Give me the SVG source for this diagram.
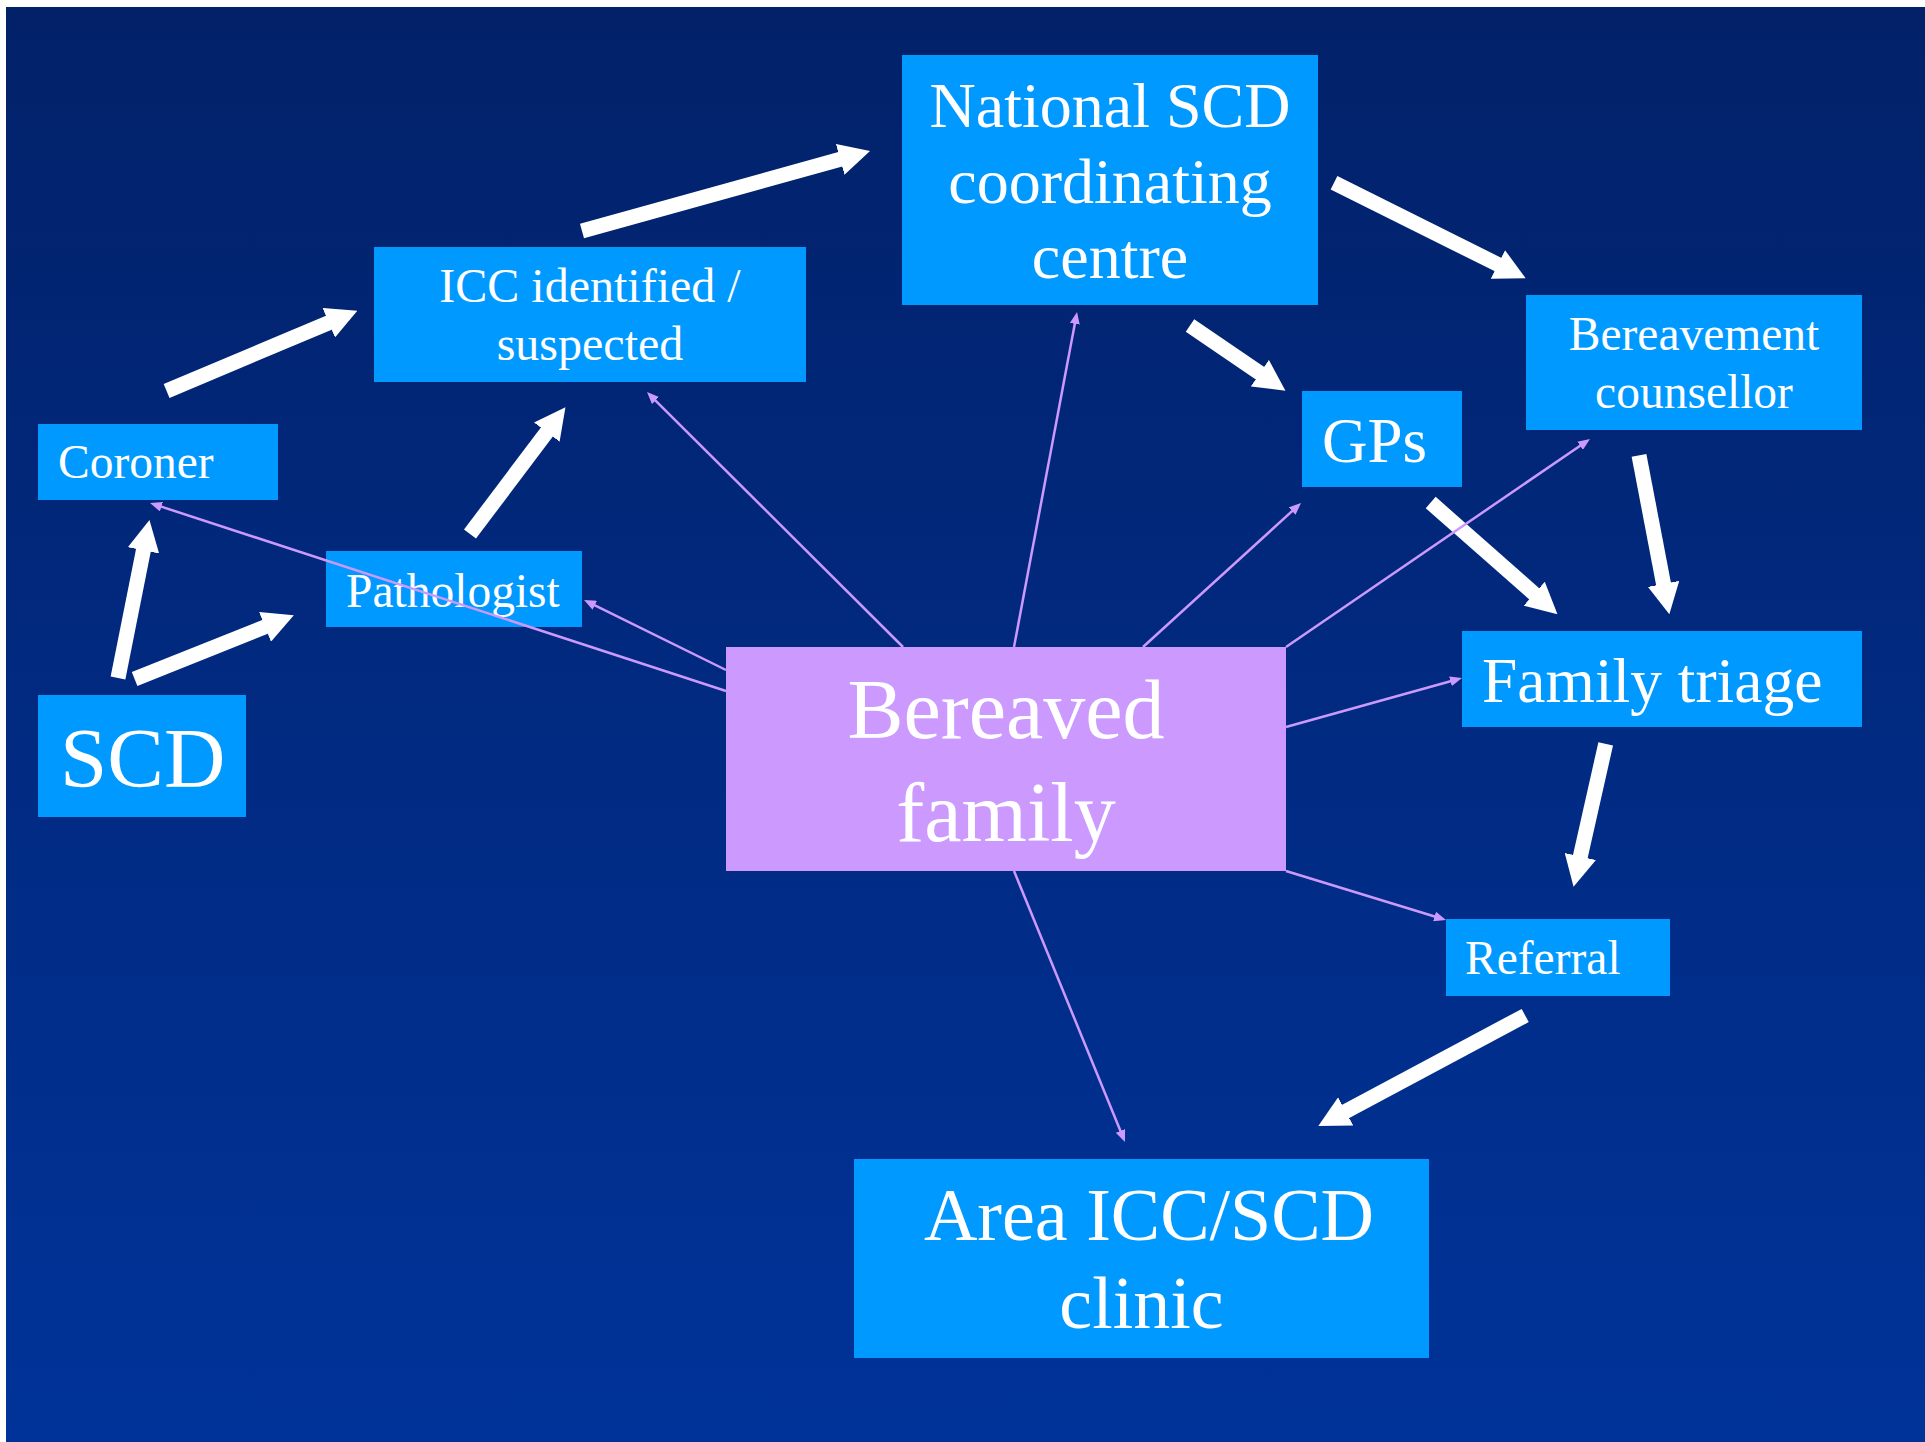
<svg xmlns="http://www.w3.org/2000/svg" width="1925" height="1442" viewBox="0 0 1925 1442">
  <style>
    .box { fill: #0099FF; }
    .fam { fill: #CC99FF; }
    text { font-family: "Liberation Serif", "Times New Roman", serif; fill: #FFFFFF; }
    .sm { font-size: 47.5px; }
    .mid { text-anchor: middle; }
    .flow { stroke: #FFFFFF; stroke-width: 15; fill: none; marker-end: url(#headW); }
    .link { stroke: #CC99FF; stroke-width: 2.5; fill: none; marker-end: url(#headP); }
  </style>
  <defs>
    <linearGradient id="bg" x1="0" y1="0" x2="0" y2="1">
      <stop offset="0" stop-color="#022169"/>
      <stop offset="1" stop-color="#003399"/>
    </linearGradient>
    <marker id="headW" markerUnits="userSpaceOnUse" viewBox="0 0 31 32" markerWidth="31" markerHeight="32" refX="2" refY="16" orient="auto">
      <path d="M0,0 L31,16 L0,32 Z" fill="#FFFFFF"/>
    </marker>
    <marker id="headP" markerUnits="userSpaceOnUse" viewBox="0 0 12 10" markerWidth="12" markerHeight="10" refX="1" refY="5" orient="auto">
      <path d="M0,0 L12,5 L0,10 Z" fill="#CC99FF"/>
    </marker>
  </defs>

  <!-- page -->
  <rect x="0" y="0" width="1925" height="1442" fill="#FFFFFF"/>
  <rect x="6" y="7" width="1919" height="1435" fill="url(#bg)"/>

  <!-- nodes -->
  <g id="national">
    <rect class="box" x="902" y="55" width="416" height="250"/>
    <text class="mid" font-size="64" x="1110" y="127">National SCD</text>
    <text class="mid" font-size="64" x="1110" y="203">coordinating</text>
    <text class="mid" font-size="64" x="1110" y="278">centre</text>
  </g>
  <g id="icc">
    <rect class="box" x="374" y="247" width="432" height="135"/>
    <text class="mid" font-size="48" x="590" y="302">ICC identified /</text>
    <text class="mid" font-size="48" x="590" y="360">suspected</text>
  </g>
  <g id="coroner">
    <rect class="box" x="38" y="424" width="240" height="76"/>
    <text class="sm" x="58" y="478">Coroner</text>
  </g>
  <g id="pathologist">
    <rect class="box" x="326" y="551" width="256" height="76"/>
    <text class="sm" x="346" y="607">Pathologist</text>
  </g>
  <g id="scd">
    <rect class="box" x="38" y="695" width="208" height="122"/>
    <text font-size="85" x="60" y="787">SCD</text>
  </g>
  <g id="gps">
    <rect class="box" x="1302" y="391" width="160" height="96"/>
    <text font-size="63" x="1322" y="462">GPs</text>
  </g>
  <g id="counsellor">
    <rect class="box" x="1526" y="295" width="336" height="135"/>
    <text class="sm mid" x="1694" y="350">Bereavement</text>
    <text class="sm mid" x="1694" y="408">counsellor</text>
  </g>
  <g id="triage">
    <rect class="box" x="1462" y="631" width="400" height="96"/>
    <text font-size="63.5" x="1482" y="702">Family triage</text>
  </g>
  <g id="referral">
    <rect class="box" x="1446" y="919" width="224" height="77"/>
    <text class="sm" x="1465" y="974">Referral</text>
  </g>
  <g id="family">
    <rect class="fam" x="726" y="647" width="560" height="224"/>
    <text class="mid" font-size="84" x="1006" y="738">Bereaved</text>
    <text class="mid" font-size="84" x="1006" y="841">family</text>
  </g>
  <g id="clinic">
    <rect class="box" x="854" y="1159" width="575" height="199"/>
    <text class="mid" font-size="74" x="1149" y="1240">Area ICC/SCD</text>
    <text class="mid" font-size="74" x="1141.5" y="1328">clinic</text>
  </g>

  <!-- connectors -->
  <g id="connectors">
    <!-- main pathway -->
    <line class="flow" x1="118" y1="678" x2="143.8" y2="548.4"/>
    <line class="flow" x1="134.6" y1="679" x2="266.9" y2="626.1"/>
    <line class="flow" x1="470" y1="534" x2="548" y2="430.5"/>
    <line class="flow" x1="166.6" y1="391" x2="330.6" y2="322"/>
    <line class="flow" x1="582" y1="231" x2="842.1" y2="158.8"/>
    <line class="flow" x1="1334" y1="182.7" x2="1499.7" y2="265.4"/>
    <line class="flow" x1="1190" y1="325.5" x2="1261.5" y2="374.3"/>
    <line class="flow" x1="1430.7" y1="502.5" x2="1535.7" y2="595.1"/>
    <line class="flow" x1="1639" y1="455.3" x2="1663.9" y2="585.8"/>
    <line class="flow" x1="1605.7" y1="743.8" x2="1579.9" y2="858.4"/>
    <line class="flow" x1="1525.2" y1="1015.5" x2="1343.9" y2="1112.3"/>
    <!-- links from the bereaved family -->
    <line class="link" x1="726" y1="691" x2="160.5" y2="506.4"/>
    <line class="link" x1="726" y1="670" x2="593.9" y2="604.9"/>
    <line class="link" x1="903" y1="647" x2="654.8" y2="399.8"/>
    <line class="link" x1="1014" y1="647" x2="1075" y2="322.8"/>
    <line class="link" x1="1143" y1="647" x2="1292.9" y2="510.4"/>
    <line class="link" x1="1286" y1="647" x2="1580.9" y2="445.2"/>
    <line class="link" x1="1286" y1="727" x2="1451.4" y2="681"/>
    <line class="link" x1="1286" y1="871" x2="1435.5" y2="916.8"/>
    <line class="link" x1="1014" y1="871" x2="1120.8" y2="1131.8"/>
  </g>
</svg>
